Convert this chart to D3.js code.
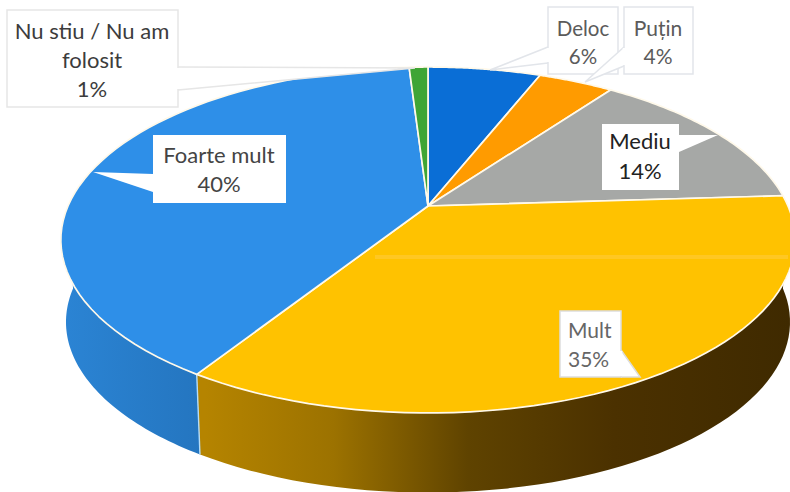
<!DOCTYPE html>
<html><head><meta charset="utf-8">
<script src="https://cdn.jsdelivr.net/npm/d3@7/dist/d3.min.js"></script>
<style>html,body{margin:0;padding:0;background:#fff}svg{display:block}
text{font-family:Lato,"Open Sans",sans-serif;text-anchor:middle}</style>
</head><body><svg id="c" width="790" height="492"></svg>
<script>
const categories = ["Deloc","Puțin","Mediu","Mult","Foarte mult","Nu stiu / Nu am folosit"];
const values = [6,4,14,35,40,1];
const topColors = ["#0A6ED6","#FF9B00","#A6A8A6","#FFC200","#2E8FE8","#3FA535"];
const labelLines = [["Deloc"],["Puțin"],["Mediu"],["Mult"],["Foarte mult"],["Nu stiu / Nu am","folosit"]];

// label callout layout: box [x,y,w,h], text x, first baseline, line step, pointer base, pointer tip
const callouts = [
 {box:[548,7,70,67],  tx:583, ty:36, dy:28, fs:20.5, base:[[548,47],[548,63]],  tip:[490,70],  stroke:"#e2e5ea", fill:"#5b5b5b", a:"middle"},
 {box:[624,7,69,67],  tx:658, ty:36, dy:28, fs:21, base:[[624,47],[624,66]],  tip:[585,82],  stroke:"#e2e5ea", fill:"#5b5b5b", a:"middle"},
 {box:[602,124,77,66],tx:640, ty:149,dy:30, fs:22, base:[[679,135],[679,152]],tip:[718,135], stroke:"none",    fill:"#222222", a:"middle"},
 {box:[560,311,61,66],tx:568, ty:338,dy:29, fs:21, base:[[621,350],[621,377]],tip:[640,377], stroke:"#dddddd", fill:"#666666", a:"start"},
 {box:[153,135,133,68],tx:219,ty:163,dy:29, fs:22, base:[[153,174],[153,192]],tip:[93,172],  stroke:"none",    fill:"#444444", a:"middle"},
 {box:[7,10,171,97],  tx:92,  ty:39, dy:29, fs:22, base:[[178,67],[178,90]],  tip:[415,68],  stroke:"#e6e6e6", fill:"#3c3c3c", a:"middle"}
];

const svg = d3.select("#c");
const apex = {x:428, y:206}, K = -0.1965, RX = 360, RY = 166.3;
const depth = {dy:82.5, s:0.986};
function project(theta, level){
  const u = Math.sin(theta), v = -Math.cos(theta), w = 1 + K*v;
  const s = level ? depth.s : 1;
  return [apex.x + s*RX*u/w, apex.y + (level?depth.dy:0) + s*RY*v/w];
}
const pie = d3.pie().sort(null).value(d=>d);
const arcs = pie(values);
const line = d3.line();
const rim = (a,b,level)=>d3.range(0,61).map(i=>project(a+(b-a)*i/60,level));

const defs = svg.append("defs");
const gy = defs.append("linearGradient").attr("id","gy").attr("gradientUnits","userSpaceOnUse")
  .attr("x1",205).attr("x2",790).attr("y1",0).attr("y2",0);
[[0,"#B58400"],[0.22,"#9C7200"],[0.45,"#5F4300"],[0.7,"#4B3100"],[1,"#3F2A00"]]
  .forEach(s=>gy.append("stop").attr("offset",s[0]).attr("stop-color",s[1]));
const gb = defs.append("linearGradient").attr("id","gb").attr("gradientUnits","userSpaceOnUse")
  .attr("x1",62).attr("x2",206).attr("y1",0).attr("y2",0);
[[0,"#2B84D4"],[1,"#2475BF"]].forEach(s=>gb.append("stop").attr("offset",s[0]).attr("stop-color",s[1]));
const sideFill = {3:"url(#gy)",4:"url(#gb)"};

// side walls: only the near half of the cylinder is visible
arcs.forEach((d,i)=>{
  const a = Math.max(d.startAngle,Math.PI/2), b = Math.min(d.endAngle,Math.PI*1.5);
  if(b<=a) return;
  const pts = rim(a,b,0).concat(rim(a,b,1).reverse());
  svg.append("path").attr("d",line(pts)+"Z").attr("fill",sideFill[i]||topColors[i]);
});
// seam between wall faces
const seam = arcs[3].endAngle;
svg.append("path").attr("d",line([project(seam,0),project(seam,1)])).attr("stroke","#b5dcf7").attr("stroke-width",1.4).attr("fill","none");

// top face
arcs.forEach((d,i)=>{
  const pts = [[apex.x,apex.y]].concat(rim(d.startAngle,d.endAngle,0));
  svg.append("path").attr("d",line(pts)+"Z").attr("fill",topColors[i])
    .attr("stroke","#fff9ea").attr("stroke-width",1.7).attr("stroke-linejoin","round");
});
// pale scan streak across the yellow slice
svg.append("line").attr("x1",375).attr("x2",788).attr("y1",257).attr("y2",257)
  .attr("stroke","#FFCC40").attr("stroke-width",4).attr("opacity",0.55);

// callouts
callouts.forEach((c,i)=>{
  const g = svg.append("g");
  const [x,y,w,h] = c.box;
  g.append("path").attr("d",line([c.base[0],c.tip,c.base[1]])).attr("fill","#fff").attr("stroke",c.stroke).attr("stroke-width",1.5);
  g.append("rect").attr("x",x).attr("y",y).attr("width",w).attr("height",h).attr("fill","#fff").attr("stroke",c.stroke).attr("stroke-width",1.5);
  g.append("path").attr("d",line([[c.base[0][0],c.base[0][1]+1],[c.base[1][0],c.base[1][1]-1]])).attr("stroke","#fff").attr("stroke-width",2.5);
  const lines = labelLines[i].concat([values[i]+"%"]);
  lines.forEach((t,j)=>{
    g.append("text").attr("x",c.tx).attr("y",c.ty+j*c.dy).attr("fill",c.fill)
      .style("font-size",c.fs+"px").style("text-anchor",c.a).text(t);
  });
});
</script></body></html>
